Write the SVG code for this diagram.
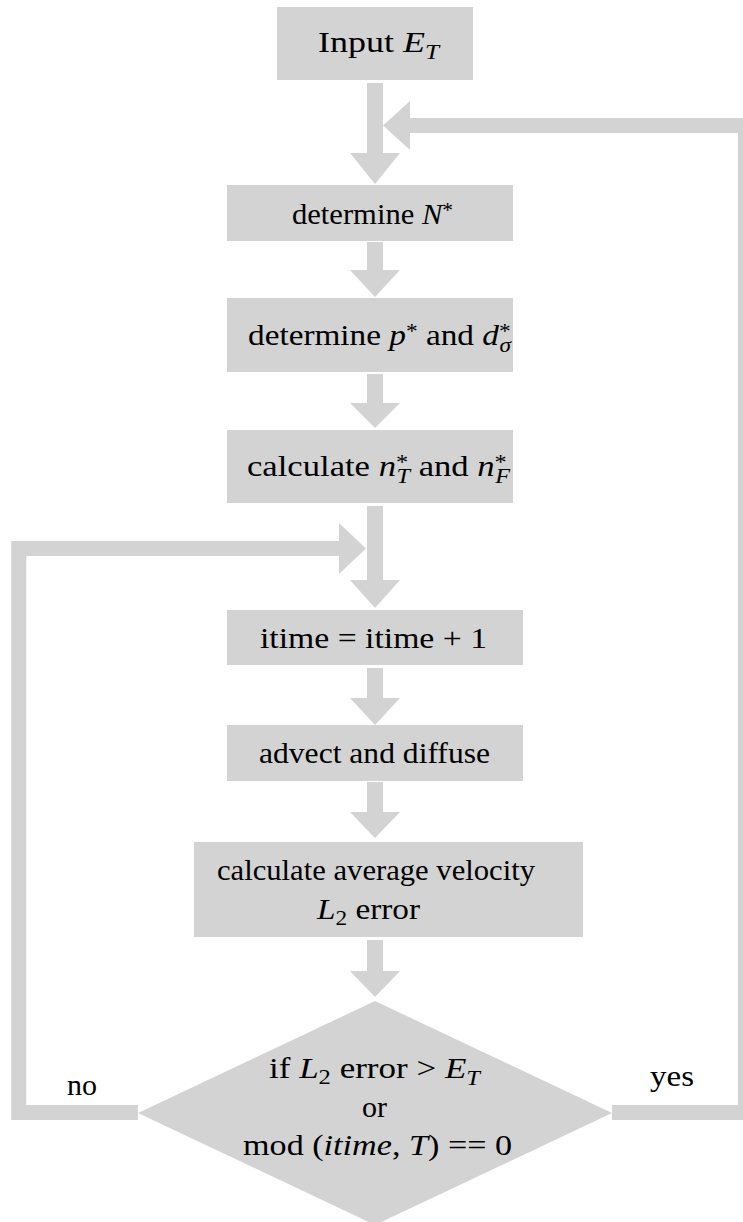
<svg xmlns="http://www.w3.org/2000/svg" width="743" height="1222" viewBox="0 0 743 1222">
<style>
.box{fill:#d3d3d3}
.arrow{fill:#d3d3d3}
.line{fill:none;stroke:#d3d3d3;stroke-width:15;stroke-linejoin:miter;stroke-linecap:butt}
text{font-family:"Liberation Serif","Times New Roman",serif;font-size:30px;fill:#000}
.i{font-style:italic}
.s{font-size:21px}
</style>
<rect width="743" height="1222" fill="#fff"/>
<g id="connectors">
<path class="arrow" d="M367,83 H383 V153 H400 L375,184 L350,153 H367 Z"/>
<path class="arrow" d="M367,242 H383 V270 H400 L375,297 L350,270 H367 Z"/>
<path class="arrow" d="M367,374 H383 V403 H400 L375,428 L350,403 H367 Z"/>
<path class="arrow" d="M367,506 H383 V580 H400 L375,608 L350,580 H367 Z"/>
<path class="arrow" d="M367,668 H383 V698 H400 L375,725 L350,698 H367 Z"/>
<path class="arrow" d="M367,782 H383 V812 H400 L375,838 L350,812 H367 Z"/>
<path class="arrow" d="M367,940 H383 V971 H400 L375,997 L350,971 H367 Z"/>
<polyline class="line" points="612,1112.5 745.5,1112.5 745.5,125.5 410,125.5"/>
<polygon class="arrow" points="410,101 410,150 383,125.5"/>
<polyline class="line" points="138,1112.5 18.75,1112.5 18.75,548.5 339,548.5"/>
<polygon class="arrow" points="339,523 339,574 366,548.5"/>
</g>
<g id="input">
<rect class="box" x="277" y="7" width="196" height="73"/>
<text x="318" y="52" textLength="121" lengthAdjust="spacingAndGlyphs">Input <tspan class="i">E</tspan><tspan class="s i" dy="7">T</tspan></text>
</g>
<g id="determineN">
<rect class="box" x="227" y="185" width="286" height="56"/>
<text x="292" y="224" textLength="161" lengthAdjust="spacingAndGlyphs">determine <tspan class="i">N</tspan><tspan class="s" dy="-7">*</tspan></text>
</g>
<g id="determineP">
<rect class="box" x="227" y="298" width="286" height="74"/>
<text x="248" y="345" textLength="263" lengthAdjust="spacingAndGlyphs">determine <tspan class="i">p</tspan><tspan class="s" dy="-7">*</tspan><tspan dy="7"> and </tspan><tspan class="i">d</tspan><tspan class="s" dy="-7">*</tspan><tspan class="s i" dx="-10" dy="14">σ</tspan></text>
</g>
<g id="calcN">
<rect class="box" x="227" y="430" width="286" height="73"/>
<text x="247" y="476" textLength="263" lengthAdjust="spacingAndGlyphs">calculate <tspan class="i">n</tspan><tspan class="s" dy="-7">*</tspan><tspan class="s i" dx="-10" dy="14">T</tspan><tspan dy="-7"> and </tspan><tspan class="i">n</tspan><tspan class="s" dy="-7">*</tspan><tspan class="s i" dx="-10" dy="14">F</tspan></text>
</g>
<g id="itime">
<rect class="box" x="227" y="610" width="296" height="55"/>
<text x="260" y="648" textLength="227" lengthAdjust="spacingAndGlyphs">itime = itime + 1</text>
</g>
<g id="advect">
<rect class="box" x="227" y="725" width="296" height="56"/>
<text x="259" y="763" textLength="231" lengthAdjust="spacingAndGlyphs">advect and diffuse</text>
</g>
<g id="calcAvg">
<rect class="box" x="194" y="842" width="389" height="95"/>
<text x="217" y="880" textLength="318" lengthAdjust="spacingAndGlyphs">calculate average velocity</text>
<text x="317" y="919" textLength="103" lengthAdjust="spacingAndGlyphs"><tspan class="i">L</tspan><tspan class="s" dy="6">2</tspan><tspan dy="-6"> error</tspan></text>
</g>
<g id="decision">
<polygon class="box" points="375,1001 612,1113 375,1225 138,1113"/>
<text x="269" y="1078" textLength="211" lengthAdjust="spacingAndGlyphs">if <tspan class="i">L</tspan><tspan class="s" dy="6">2</tspan><tspan dy="-6"> error &gt; </tspan><tspan class="i">E</tspan><tspan class="s i" dy="7">T</tspan></text>
<text x="362" y="1117" textLength="25" lengthAdjust="spacingAndGlyphs">or</text>
<text x="243" y="1155" textLength="269" lengthAdjust="spacingAndGlyphs">mod (<tspan class="i">itime</tspan>, <tspan class="i">T</tspan>) == 0</text>
</g>
<g id="labels">
<text x="67" y="1095" textLength="30" lengthAdjust="spacingAndGlyphs">no</text>
<text x="650" y="1086" textLength="44" lengthAdjust="spacingAndGlyphs">yes</text>
</g>
</svg>
